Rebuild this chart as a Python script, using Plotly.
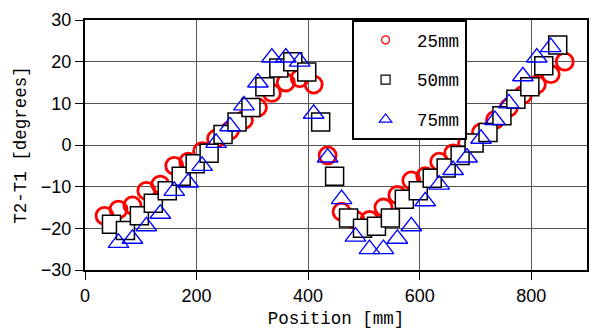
import plotly.graph_objects as go

# 25mm series (red circles)
circ_x = [35, 60, 85, 110, 135, 160, 185, 210, 235, 260, 285, 310, 335, 360, 385, 410,
          435, 460, 485, 510, 535, 560, 585, 610, 635, 660, 685, 710, 735, 760, 785, 810, 835, 860]
circ_y = [-17, -15.5, -14.5, -11, -9.5, -5, -4, -1.5, 1.5, 3.5, 6, 9, 12.5, 15, 16, 14.5,
          -2.5, -16, -18, -18, -15, -12, -8.5, -7.5, -4, -2, 0.5, 3, 6, 9, 12, 14.5, 17, 20]

# 50mm series (black squares)
sq_x = [47.5, 72.5, 97.5, 122.5, 147.5, 172.5, 197.5, 222.5, 247.5, 272.5, 297.5, 322.5,
        347.5, 372.5, 397.5, 422.5, 447.5, 472.5, 497.5, 522.5, 547.5, 572.5, 597.5, 622.5,
        647.5, 672.5, 697.5, 722.5, 747.5, 772.5, 797.5, 822.5, 847.5]
sq_y = [-19, -20.5, -17, -14, -11, -7.5, -4.5, -2, 2.5, 5.5, 9, 14,
        18.5, 20, 17.5, 5.5, -7.5, -17.5, -20, -19.5, -17.5, -13, -11, -8,
        -5.5, -2.5, 0.5, 3, 7, 11, 14, 19, 24]

# 75mm series (blue triangles)
tri_x = [60, 85, 110, 135, 160, 185, 210, 235, 260, 285, 310, 335, 360, 385, 410, 435,
         460, 485, 510, 535, 560, 585, 610, 635, 660, 685, 710, 735, 760, 785, 810, 835]
tri_y = [-23.5, -22.5, -19.5, -16.5, -11, -9, -5, 0.5, 4.5, 9.5, 15, 21, 21, 20, 7.5, -3,
         -13, -22, -25, -25, -22.5, -19.5, -13.5, -9.5, -6, -3, 1.5, 6, 10, 16.5, 21, 23.5]

names = ["25mm", "50mm", "75mm"]
x_ticks = [0, 200, 400, 600, 800]
y_ticks = [-30, -20, -10, 0, 10, 20, 30]

MONO = "Liberation Mono"
SANS = "Liberation Sans"

fig = go.Figure()

fig.add_trace(go.Scatter(x=circ_x, y=circ_y, mode="markers", showlegend=False,
                         marker=dict(symbol="circle-open", size=17, color="#ff0000",
                                     line=dict(color="#ff0000", width=2.8))))
fig.add_trace(go.Scatter(x=sq_x, y=sq_y, mode="markers", showlegend=False,
                         marker=dict(symbol="square", size=18, color="white",
                                     line=dict(color="black", width=1.5))))
fig.add_trace(go.Scatter(x=tri_x, y=tri_y, mode="markers", showlegend=False,
                         marker=dict(symbol="triangle-up-open", size=18, color="#0000ff",
                                     line=dict(color="#0000ff", width=1.3))))

# legend entries
fig.add_trace(go.Scatter(x=[None], y=[None], mode="markers", name=names[0], legendgroup="a",
                         marker=dict(symbol="circle-open", size=8, color="#ff0000",
                                     line=dict(color="#ff0000", width=1.2))))
fig.add_trace(go.Scatter(x=[None], y=[None], mode="markers", name=names[1], legendgroup="b",
                         marker=dict(symbol="square", size=9, color="white",
                                     line=dict(color="black", width=1.2))))
fig.add_trace(go.Scatter(x=[None], y=[None], mode="markers", name=names[2], legendgroup="c",
                         marker=dict(symbol="triangle-up-open", size=11, color="#0000ff",
                                     line=dict(color="#0000ff", width=1.2))))

axis_common = dict(
    showgrid=True, gridcolor="#555555", gridwidth=1,
    showline=True, linecolor="black", linewidth=2, mirror=True,
    ticks="outside", ticklen=8, tickcolor="black", tickwidth=1,
    tickfont=dict(family=SANS, size=18, color="black"),
    zeroline=False, automargin=False,
)

fig.update_xaxes(range=[0, 900], tickvals=x_ticks,
                 title=dict(text="Position [mm]", font=dict(family=MONO, size=17.5, color="black"),
                            standoff=7),
                 **axis_common)
fig.update_yaxes(range=[-30, 30], tickvals=y_ticks,
                 title=dict(text="T2-T1 [degrees]", font=dict(family=MONO, size=17.5, color="black"),
                            standoff=10),
                 **axis_common)

fig.update_layout(
    width=591, height=331,
    margin=dict(l=85, r=4, t=20, b=61),
    plot_bgcolor="white", paper_bgcolor="white",
    legend=dict(x=0.532, y=1, xanchor="left", yanchor="top",
                bgcolor="white", bordercolor="black", borderwidth=2,
                font=dict(family=MONO, size=17.5, color="black"),
                itemwidth=53, tracegroupgap=14, traceorder="grouped"),
)

fig.write_html("out.html",
               config={"displayModeBar": False},
               post_script="document.body.style.margin='0px';document.body.style.overflow='hidden';")
